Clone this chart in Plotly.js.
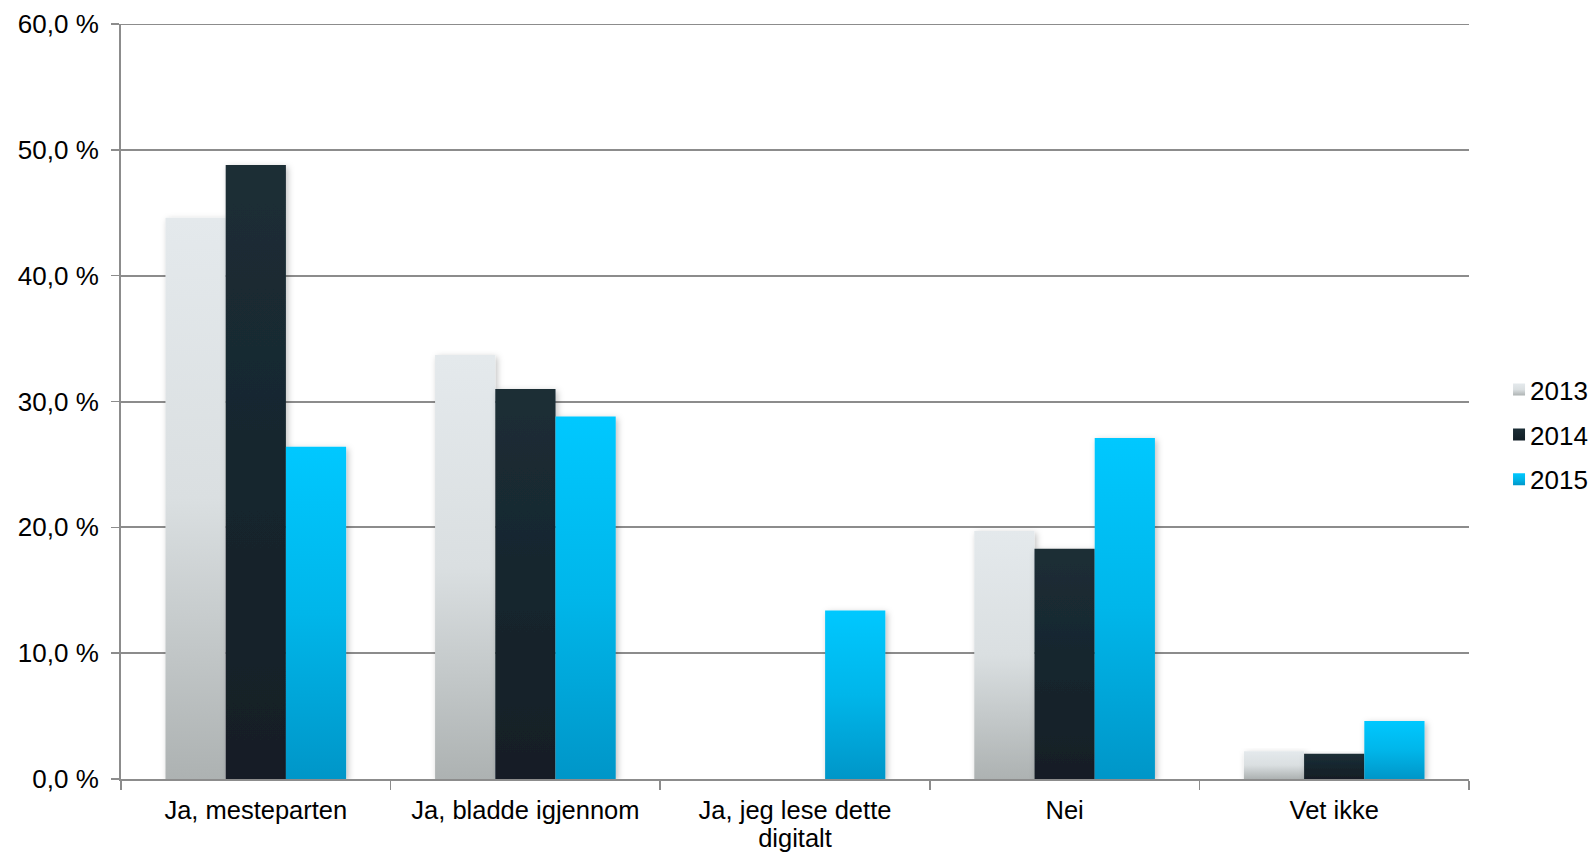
<!DOCTYPE html>
<html>
<head>
<meta charset="utf-8">
<script src="https://cdn.plot.ly/plotly-3.0.1.min.js"></script>
<style>
  html, body { margin: 0; padding: 0; background: #ffffff; }
  #chart { width: 1596px; height: 855px; }
</style>
</head>
<body>
<div id="chart"></div>
<script>
// ---- Data ----
const categories = ["Ja, mesteparten", "Ja, bladde igjennom", "Ja, jeg lese dette<br>digitalt", "Nei", "Vet ikke"];
const seriesNames = ["2013", "2014", "2015"];
const values2013 = [44.6, 33.7, null, 19.7, 2.2];
const values2014 = [48.8, 31.0, null, 18.3, 2.0];
const values2015 = [26.4, 28.8, 13.4, 27.1, 4.6];
const yTickValues = [0, 10, 20, 30, 40, 50, 60];
const yTickLabels = ["0,0 %", "10,0 %", "20,0 %", "30,0 %", "40,0 %", "50,0 %", "60,0 %"];

// ---- Styles ----
const solidColors = ["#cfd4d6", "#182830", "#00b4e8"];
const gradientStops = [
  [["0%", "#e4e9ec"], ["50%", "#dadfe1"], ["100%", "#adb2b2"]],
  [["0%", "#1c2e36"], ["100%", "#121e26"]],
  [["0%", "#00c8ff"], ["50%", "#00b6ea"], ["100%", "#0096c8"]]
];
const FONT = "Liberation Sans, Arial, Helvetica, sans-serif";
const gridCol = "#8c8c8c";
const yMax = yTickValues[yTickValues.length - 1];

const allValues = [values2013, values2014, values2015];
const traces = seriesNames.map((name, i) => ({
  type: "bar",
  name: name,
  x: categories,
  y: allValues[i],
  marker: { color: solidColors[i], line: { width: 0 } },
  legendgroup: "g" + i,
  hoverinfo: "skip"
}));

const layout = {
  width: 1596,
  height: 855,
  margin: { l: 121, r: 127, t: 24, b: 76, pad: 0, autoexpand: false },
  paper_bgcolor: "#ffffff",
  plot_bgcolor: "#ffffff",
  font: { family: FONT, size: 26, color: "#000000" },
  barmode: "group",
  bargap: 0.33,
  bargroupgap: 0,
  showlegend: true,
  legend: {
    x: 1.0156, xanchor: "left",
    y: 0.456, yanchor: "middle",
    font: { family: FONT, size: 26, color: "#000000" },
    tracegroupgap: 8,
    itemwidth: 30,
    bgcolor: "rgba(0,0,0,0)",
    borderwidth: 0
  },
  xaxis: {
    type: "category",
    showline: true,
    linecolor: gridCol,
    linewidth: 2,
    ticks: "outside",
    tickson: "boundaries",
    ticklen: 9,
    tickwidth: 1.5,
    tickcolor: gridCol,
    showgrid: false,
    zeroline: false,
    tickfont: { family: FONT, size: 25.5, color: "#000000" },
    ticklabelstandoff: 7,
    fixedrange: true
  },
  yaxis: {
    range: [0, yMax],
    tickmode: "array",
    tickvals: yTickValues,
    ticktext: yTickLabels,
    showline: true,
    linecolor: gridCol,
    linewidth: 2,
    ticks: "outside",
    ticklen: 8,
    tickwidth: 1.5,
    tickcolor: gridCol,
    showgrid: true,
    gridcolor: gridCol,
    gridwidth: 2,
    zeroline: false,
    tickfont: { family: FONT, size: 26, color: "#000000" },
    ticklabelstandoff: 7,
    fixedrange: true
  },
  shapes: [{
    type: "line", xref: "paper", x0: 0, x1: 1, yref: "y", y0: yMax, y1: yMax,
    line: { color: gridCol, width: 2 }, layer: "below"
  }]
};

Plotly.newPlot("chart", traces, layout, { displayModeBar: false, staticPlot: true }).then(gd => {
  const NS = "http://www.w3.org/2000/svg";
  const svg = gd.querySelector("svg.main-svg");
  let defs = svg.querySelector("defs");
  if (!defs) { defs = document.createElementNS(NS, "defs"); svg.insertBefore(defs, svg.firstChild); }
  gradientStops.forEach((stops, i) => {
    const lg = document.createElementNS(NS, "linearGradient");
    lg.setAttribute("id", "barGrad" + i);
    lg.setAttribute("x1", "0"); lg.setAttribute("y1", "0");
    lg.setAttribute("x2", "0"); lg.setAttribute("y2", "1");
    stops.forEach(([off, col]) => {
      const s = document.createElementNS(NS, "stop");
      s.setAttribute("offset", off);
      s.setAttribute("stop-color", col);
      lg.appendChild(s);
    });
    defs.appendChild(lg);
  });
  const filt = document.createElementNS(NS, "filter");
  filt.setAttribute("id", "barShadow");
  filt.setAttribute("x", "-20%"); filt.setAttribute("y", "-10%");
  filt.setAttribute("width", "150%"); filt.setAttribute("height", "130%");
  const ds = document.createElementNS(NS, "feDropShadow");
  ds.setAttribute("dx", "2"); ds.setAttribute("dy", "2");
  ds.setAttribute("stdDeviation", "3");
  ds.setAttribute("flood-color", "#000000");
  ds.setAttribute("flood-opacity", "0.25");
  filt.appendChild(ds);
  defs.appendChild(filt);

  const barTraces = gd.querySelectorAll(".barlayer .trace");
  barTraces.forEach((tr, i) => {
    tr.querySelectorAll("path").forEach(p => {
      p.style.fill = "url(#barGrad" + i + ")";
      p.setAttribute("filter", "url(#barShadow)");
    });
  });
  const legTraces = gd.querySelectorAll(".legend .traces");
  legTraces.forEach((tr, i) => {
    tr.querySelectorAll(".legendpoints path").forEach(p => {
      p.style.fill = "url(#barGrad" + i + ")";
    });
    const lp = tr.querySelector(".legendpoints");
    if (lp) lp.setAttribute("transform", "translate(9,0)");
  });
  // tighten the line spacing of wrapped category labels
  gd.querySelectorAll(".xtick text tspan.line").forEach((t, k) => {
    const dy = t.getAttribute("dy");
    if (dy && dy !== "0em" && parseFloat(dy) > 0) t.setAttribute("dy", "1.1em");
  });
});
</script>
</body>
</html>
